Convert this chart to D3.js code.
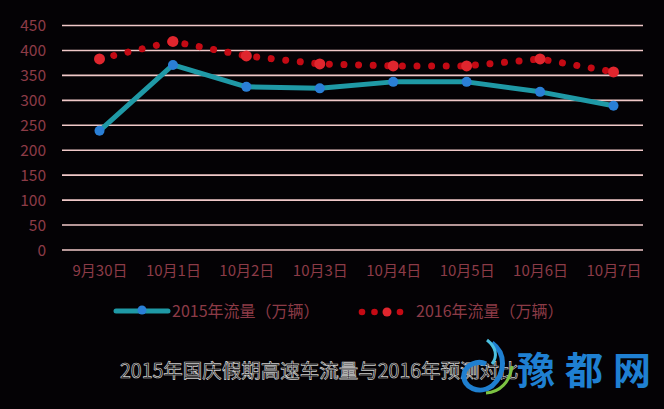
<!DOCTYPE html>
<html><head><meta charset="utf-8">
<script src="https://cdn.jsdelivr.net/npm/d3@7"></script>
<style>html,body{margin:0;padding:0;background:#040205;}svg{display:block;}</style>
</head><body>
<script>
const categories = ["9月30日","10月1日","10月2日","10月3日","10月4日","10月5日","10月6日","10月7日"];
const flow2015 = [239, 371, 327, 324, 337, 337, 317, 289];
const flow2016 = [383, 418, 389, 373, 369, 369, 383, 357];
const yTicks = [0, 50, 100, 150, 200, 250, 300, 350, 400, 450];
const series2015Name = "2015年流量（万辆）";
const series2016Name = "2016年流量（万辆）";
const title = "2015年国庆假期高速车流量与2016年预测对比";
const logoText = "豫都网";

const W = 664, H = 409;
const svg = d3.select("body").append("svg").attr("width", W).attr("height", H);
svg.append("rect").attr("width", W).attr("height", H).attr("fill", "#040205");

const gridX0 = 62, gridX1 = 643;
const y = d3.scaleLinear().domain([0, 450]).range([250, 25.5]);
const x = d3.scalePoint().domain(categories).range([99.5, 613.5]);

const labelColor = "#8c3b47";
const cjk = "'Noto Sans CJK SC', sans-serif";

// gridlines
svg.append("g").selectAll("line").data(yTicks).join("line")
  .attr("x1", gridX0).attr("x2", gridX1)
  .attr("y1", d => y(d)).attr("y2", d => y(d))
  .attr("stroke", "#f0c8c8").attr("stroke-width", 1.6);

// y axis labels
const yAxis = d3.axisLeft(y).tickValues(yTicks).tickSize(0).tickPadding(0);
const gy = svg.append("g").attr("transform", "translate(46,0)").call(yAxis);
gy.select(".domain").remove();
gy.selectAll("text").attr("fill", labelColor).attr("font-size", 15.5)
  .attr("font-family", cjk).attr("dy", "0.35em");

// x axis labels
const xAxis = d3.axisBottom(x).tickSize(0).tickPadding(0);
const gx = svg.append("g").attr("transform", "translate(0,265)").call(xAxis);
gx.select(".domain").remove();
gx.selectAll("text").attr("fill", labelColor).attr("font-size", 15)
  .attr("font-family", cjk).attr("dy", "0.71em");

// 2016 dotted line
const line = d3.line().x((d, i) => x(categories[i])).y(d => y(d));
svg.append("path").datum(flow2016).attr("d", line)
  .attr("fill", "none").attr("stroke", "#c40a14").attr("stroke-width", 7)
  .attr("stroke-linecap", "round").attr("stroke-dasharray", "0.01 14.6");
svg.append("g").selectAll("circle").data(flow2016).join("circle")
  .attr("cx", (d, i) => x(categories[i])).attr("cy", d => y(d)).attr("r", 5.5)
  .attr("fill", "#e0262e");

// 2015 line
svg.append("path").datum(flow2015).attr("d", line)
  .attr("fill", "none").attr("stroke", "#1f99a6").attr("stroke-width", 5)
  .attr("stroke-linejoin", "round");
svg.append("g").selectAll("circle").data(flow2015).join("circle")
  .attr("cx", (d, i) => x(categories[i])).attr("cy", d => y(d)).attr("r", 5)
  .attr("fill", "#2a7fd6");

// legend
const ly = 311;
svg.append("line").attr("x1", 116).attr("x2", 168).attr("y1", ly).attr("y2", ly)
  .attr("stroke", "#1f99a6").attr("stroke-width", 5).attr("stroke-linecap", "round");
svg.append("circle").attr("cx", 142).attr("cy", ly - 1).attr("r", 4.5).attr("fill", "#2a7fd6");
svg.append("text").attr("x", 172).attr("y", ly).attr("dy", "0.35em")
  .attr("fill", labelColor).attr("font-size", 16).attr("font-family", cjk)
  .text(series2015Name);
svg.append("g").selectAll("circle").data([362, 374.5, 387, 400]).join("circle")
  .attr("cx", d => d).attr("cy", ly + 1).attr("r", (d, i) => i === 2 ? 4.5 : 3.3)
  .attr("fill", (d, i) => i === 2 ? "#e0262e" : "#c40a14");
svg.append("text").attr("x", 416).attr("y", ly).attr("dy", "0.35em")
  .attr("fill", labelColor).attr("font-size", 16).attr("font-family", cjk)
  .text(series2016Name);

// title (outlined text)
svg.append("text").attr("x", 120).attr("y", 378)
  .attr("fill", "#0a0a0a").attr("stroke", "#cfcfcf").attr("stroke-width", 0.7)
  .attr("font-size", 19.5).attr("font-family", cjk)
  .text(title);

// logo swirl
const lg = svg.append("g");
lg.append("path").attr("d", "M492,343 C506,353 506,373 492,386 C480,395 462,388 464,374 C466,364 478,360 486,364")
  .attr("fill", "none").attr("stroke", "#1f7fd0").attr("stroke-width", 5);
lg.append("path").attr("d", "M487,340 C496,347 498,356 492,364")
  .attr("fill", "none").attr("stroke", "#4cc0e0").attr("stroke-width", 3);
lg.append("path").attr("d", "M486,393 C500,392 510,382 512,366")
  .attr("fill", "none").attr("stroke", "#7cc242").attr("stroke-width", 3);
svg.append("text").attr("x", 517).attr("y", 384)
  .attr("fill", "#1f80d2").attr("font-size", 38).attr("font-weight", "bold")
  .attr("letter-spacing", 10)
  .attr("font-family", cjk)
  .text(logoText);
</script>
</body></html>
